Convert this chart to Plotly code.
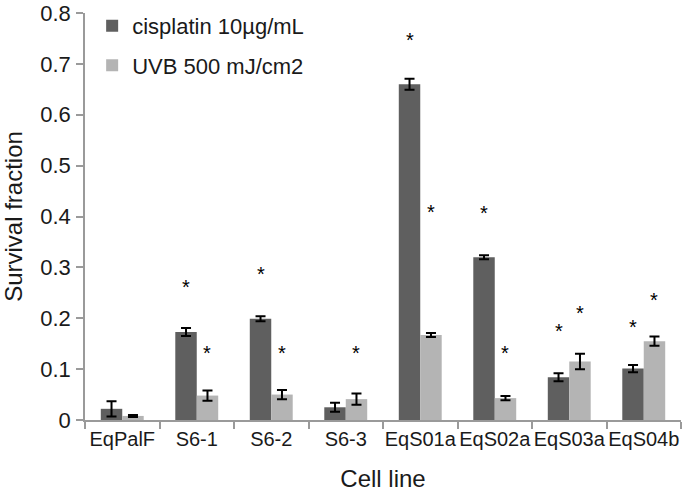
import plotly.graph_objects as go

# Données
cell_lines = ["EqPalF", "S6-1", "S6-2", "S6-3", "EqS01a", "EqS02a", "EqS03a", "EqS04b"]

cisplatin     = [0.022, 0.173, 0.199, 0.025, 0.660, 0.320, 0.084, 0.101]
cisplatin_err = [0.015, 0.008, 0.005, 0.009, 0.011, 0.004, 0.008, 0.007]
uvb           = [0.008, 0.048, 0.050, 0.041, 0.167, 0.043, 0.115, 0.155]
uvb_err       = [0.002, 0.010, 0.009, 0.011, 0.004, 0.004, 0.015, 0.009]

# hauteur des étoiles (None = pas d'étoile)
cis_star = [None, 0.262, 0.287, None, 0.746, 0.407, 0.175, 0.183]
uvb_star = [None, 0.131, 0.131, 0.131, 0.409, 0.131, 0.210, 0.236]

y_ticks = [0, 0.1, 0.2, 0.3, 0.4, 0.5, 0.6, 0.7, 0.8]
y_labels = ["0", "0.1", "0.2", "0.3", "0.4", "0.5", "0.6", "0.7", "0.8"]

DARK = "#5f5f5f"
LIGHT = "#b4b4b4"
AXIS = "#9a9a9a"
TXT = "#1a1a1a"
FONT = "Liberation Sans, Arial, sans-serif"

fig = go.Figure()

fig.add_trace(go.Bar(
    x=cell_lines, y=cisplatin, name="cisplatin 10µg/mL",
    marker=dict(color=DARK, line=dict(width=0)),
    error_y=dict(type="data", array=cisplatin_err, color="black", thickness=2, width=5),
    legendgroup="a",
))
fig.add_trace(go.Bar(
    x=cell_lines, y=uvb, name="UVB 500 mJ/cm2",
    marker=dict(color=LIGHT, line=dict(width=0)),
    error_y=dict(type="data", array=uvb_err, color="black", thickness=2, width=5),
    legendgroup="b",
))

# Étoiles de significativité au-dessus de chaque barre
for name, ys, shift in [("cis", cis_star, -10.7), ("uvb", uvb_star, 10.7)]:
    for cat, yv in zip(cell_lines, ys):
        if yv is None:
            continue
        fig.add_annotation(x=cat, y=yv, text="*", showarrow=False, xshift=shift,
                           font=dict(family=FONT, size=20, color="#000000"))

fig.update_layout(
    width=685, height=496,
    margin=dict(l=85, r=4, t=13, b=76, autoexpand=False),
    paper_bgcolor="white", plot_bgcolor="white",
    barmode="group", bargap=0.424, bargroupgap=0,
    font=dict(family=FONT, size=20, color=TXT),
    showlegend=True,
    legend=dict(x=0.012, y=1.02, xanchor="left", yanchor="top",
                bgcolor="rgba(0,0,0,0)", font=dict(size=22, color=TXT),
                tracegroupgap=8, itemsizing="constant"),
)

fig.update_xaxes(
    showline=True, linecolor=AXIS, linewidth=1.5,
    ticks="outside", tickson="boundaries", ticklen=7, tickcolor=AXIS, tickwidth=1.5,
    tickfont=dict(size=20, color=TXT), tickangle=0,
    title=dict(text="Cell line", font=dict(size=24, color=TXT), standoff=21),
    showgrid=False, zeroline=False, automargin=False,
)
fig.update_yaxes(
    range=[0, 0.8], tickvals=y_ticks, ticktext=y_labels,
    showline=True, linecolor=AXIS, linewidth=1.5,
    ticks="outside", ticklen=7, tickcolor=AXIS, tickwidth=1.5,
    tickfont=dict(size=22, color=TXT), ticklabelstandoff=1,
    title=dict(text="Survival fraction", font=dict(size=24, color=TXT), standoff=11),
    showgrid=False, zeroline=False, automargin=False,
)

# la page HTML a une marge de 8 px par défaut : on l'enlève
fig.write_html("out.html", config={"displayModeBar": False},
               post_script="document.body.style.margin='0';")
